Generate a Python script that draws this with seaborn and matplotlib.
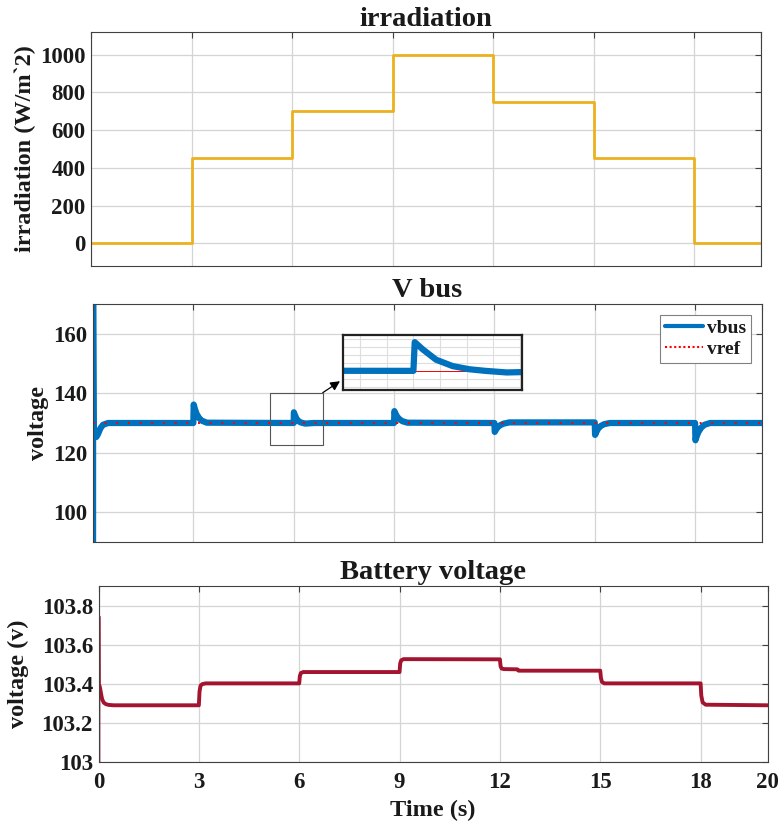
import numpy as np
import pandas as pd
import matplotlib
matplotlib.use("Agg")
import matplotlib.pyplot as plt
from matplotlib.patches import Rectangle
import seaborn as sns

# ---- irradiation profile (step levels, held until the next change) ----
irr_t = [0, 3, 6, 9, 12, 15, 18, 20]
irr_v = [0, 450, 700, 1000, 750, 450, 0, 0]

# ---- DC bus voltage: start-up and the transient after each irradiation step ----
vbus_t = [0.0, 0.003, 0.02, 0.06, 0.10, 0.15, 0.22, 0.30, 0.45,
          3.0, 3.01, 3.05, 3.10, 3.17, 3.25, 3.40,
          6.0, 6.005, 6.035, 6.085, 6.147, 6.21, 6.27, 6.35, 6.60,
          9.0, 9.01, 9.05, 9.10, 9.17, 9.25, 9.40,
          12.0, 12.01, 12.05, 12.10, 12.18, 12.28, 12.45,
          15.0, 15.01, 15.05, 15.10, 15.18, 15.28, 15.45,
          18.0, 18.01, 18.05, 18.10, 18.18, 18.28, 18.45,
          20.0]
vbus_v = [0.0, 172.0, 128.5, 126.0, 125.3, 126.3, 128.2, 129.4, 130.0,
          130.0, 136.2, 134.6, 133.0, 131.7, 130.8, 130.1,
          130.0, 133.6, 132.7, 131.4, 130.6, 130.2, 130.0, 129.8, 130.0,
          130.0, 134.0, 133.0, 132.0, 131.2, 130.6, 130.1,
          130.0, 127.0, 127.8, 128.6, 129.3, 129.8, 130.2,
          130.2, 126.0, 127.0, 128.1, 129.0, 129.6, 130.0,
          130.0, 124.2, 125.6, 127.0, 128.4, 129.4, 130.0,
          130.0]

# ---- reference bus voltage ----
vref_t = [0, 20]
vref_v = [130, 130]

# ---- battery terminal voltage ----
bat_spike_t = [0.03, 0.03, 0.035]
bat_spike_v = [103.0, 103.745, 103.39]
bat_t = [0.03, 0.05, 0.08, 0.11, 0.16, 0.22, 0.30, 0.45,
         3.0, 3.02, 3.05, 3.10, 3.20,
         6.0, 6.02, 6.05, 6.12,
         9.0, 9.02, 9.05, 9.12,
         12.0, 12.02, 12.05, 12.12, 12.52, 12.56,
         15.0, 15.02, 15.05, 15.12,
         18.0, 18.02, 18.06, 18.15,
         20.0]
bat_v = [103.39, 103.375, 103.345, 103.32, 103.303, 103.296, 103.292, 103.29,
         103.29, 103.36, 103.39, 103.398, 103.402,
         103.402, 103.44, 103.455, 103.46,
         103.46, 103.505, 103.52, 103.526,
         103.525, 103.49, 103.478, 103.475, 103.474, 103.467,
         103.467, 103.43, 103.41, 103.402,
         103.402, 103.34, 103.305, 103.293,
         103.29]

time_ticks = [0, 3, 6, 9, 12, 15, 18, 20]

C_IRR = "#EDB120"
C_BUS = "#0072BD"
C_REF = "#FF0000"
C_BAT = "#A2142F"
SPINE = "#404040"
GRID = "#d4d4d4"

sns.set_theme(style="whitegrid")
plt.rcParams.update({
    "font.family": ["Liberation Serif", "DejaVu Serif"],
    "font.weight": "bold",
    "axes.titleweight": "bold",
    "axes.labelweight": "bold",
    "axes.edgecolor": SPINE,
    "axes.linewidth": 0.8,
    "grid.color": GRID,
    "grid.linewidth": 0.9,
    "xtick.direction": "in",
    "ytick.direction": "in",
    "xtick.color": SPINE,
    "ytick.color": SPINE,
    "xtick.labelcolor": "#1a1a1a",
    "ytick.labelcolor": "#1a1a1a",
    "text.color": "#1a1a1a",
    "axes.labelcolor": "#1a1a1a",
})

fig = plt.figure(figsize=(7.84, 8.30), dpi=100)
W, H = 784.0, 830.0


def px_axes(l, t, r, b):
    return fig.add_axes([l / W, 1 - b / H, (r - l) / W, (b - t) / H])


ax1 = px_axes(91, 32, 761, 266)
ax2 = px_axes(93, 304, 762, 542)
ax3 = px_axes(98.5, 586, 767.5, 762)

TICK_FS = 16.5
LABEL_FS = 17.5
TITLE_FS = 20.5


def style(ax):
    ax.set_xlim(0, 20)
    ax.set_xticks(time_ticks)
    ax.tick_params(which="both", top=True, right=True, length=4, width=0.8,
                   labelsize=TICK_FS)
    ax.tick_params(axis="y", pad=4)
    ax.tick_params(axis="x", pad=7)
    for s in ax.spines.values():
        s.set_visible(True)
        s.set_color(SPINE)
        s.set_linewidth(0.8)
    ax.grid(True)
    ax.set_xlabel("")


# ---- irradiation ----
df_irr = pd.DataFrame({"t": irr_t, "v": irr_v})
sns.lineplot(data=df_irr, x="t", y="v", ax=ax1, estimator=None, sort=False,
             color=C_IRR, lw=2.0, drawstyle="steps-post")
style(ax1)
ax1.set_ylim(-120, 1120)
ax1.set_yticks([0, 200, 400, 600, 800, 1000])
ax1.set_xticklabels([])
ax1.set_title("irradiation", fontsize=TITLE_FS, pad=4)
ax1.set_ylabel("irradiation (W/m`2)", fontsize=LABEL_FS)
ax1.yaxis.set_label_coords(-0.0985, 0.5)
ax1.yaxis.label.set_va("center")

# ---- bus voltage ----
df_bus = pd.DataFrame({"t": vbus_t, "v": vbus_v})
df_ref = pd.DataFrame({"t": vref_t, "v": vref_v})
sns.lineplot(data=df_bus, x="t", y="v", ax=ax2, estimator=None, sort=False,
             color=C_BUS, lw=4.5, label="vbus")
sns.lineplot(data=df_ref, x="t", y="v", ax=ax2, estimator=None, sort=False,
             color=C_REF, lw=1.4, linestyle=(0, (1, 5)), label="vref")
style(ax2)
ax2.set_ylim(90, 170)
ax2.set_yticks([100, 120, 140, 160])
ax2.set_xticklabels([])
ax2.set_title("V bus", fontsize=TITLE_FS, pad=5)
ax2.set_ylabel("voltage", fontsize=LABEL_FS)
ax2.yaxis.set_label_coords(-0.0822, 0.5)
ax2.yaxis.label.set_va("center")

leg = ax2.legend(loc="upper right", fontsize=14, frameon=True, fancybox=False,
                 edgecolor="#808080", framealpha=1, borderaxespad=0.55,
                 handlelength=2.0, handletextpad=0.2, labelspacing=0.15,
                 borderpad=0.25)
leg.get_frame().set_linewidth(0.8)
for h in leg.get_lines():
    if h.get_color() == C_BUS:
        h.set_linewidth(3.0)
    else:
        h.set_linewidth(1.5)
        h.set_linestyle((0, (1, 1.2)))

# zoom window on the 6 s transient
x0, x1, y0, y1 = 5.28, 6.87, 122.6, 140.2
ax2.add_patch(Rectangle((x0, y0), x1 - x0, y1 - y0, fill=False,
                        edgecolor="#555555", lw=0.8, zorder=5))

axin = px_axes(342.7, 335, 522, 390)
sns.lineplot(data=df_ref, x="t", y="v", ax=axin, estimator=None, sort=False,
             color=C_REF, lw=0.7, legend=False)
sns.lineplot(data=df_bus, x="t", y="v", ax=axin, estimator=None, sort=False,
             color=C_BUS, lw=4.5, legend=False)
axin.set_xlim(5.735, 6.407)
axin.set_ylim(127.6, 134.5)
axin.set_xticks(np.arange(5.8, 6.41, 0.1))
axin.set_yticks(np.arange(128, 134.1, 1))
axin.set_xticklabels([])
axin.set_yticklabels([])
axin.set_xlabel("")
axin.set_ylabel("")
axin.tick_params(length=0)
axin.grid(True, color="#dedede", lw=0.8)
axin.set_facecolor("white")
for s in axin.spines.values():
    s.set_visible(True)
    s.set_color("#222222")
    s.set_linewidth(1.6)

ax2.annotate("", xy=(-0.015, 0.16), xycoords=axin.transAxes,
             xytext=(x1, y1), textcoords="data",
             arrowprops=dict(arrowstyle="-|>", color="black", lw=0.9,
                             mutation_scale=14, shrinkA=0, shrinkB=0))

# ---- battery voltage ----
df_bat = pd.DataFrame({"t": bat_t, "v": bat_v})
df_bat0 = pd.DataFrame({"t": bat_spike_t, "v": bat_spike_v})
sns.lineplot(data=df_bat0, x="t", y="v", ax=ax3, estimator=None, sort=False,
             color=C_BAT, lw=1.2)
sns.lineplot(data=df_bat, x="t", y="v", ax=ax3, estimator=None, sort=False,
             color=C_BAT, lw=2.8)
style(ax3)
ax3.set_ylim(103.0, 103.9)
ax3.set_yticks([103.0, 103.2, 103.4, 103.6, 103.8])
ax3.set_yticklabels(["103", "103.2", "103.4", "103.6", "103.8"])
ax3.set_xticklabels([str(t) for t in time_ticks])
ax3.set_title("Battery voltage", fontsize=TITLE_FS, pad=5)
ax3.set_xlabel("Time (s)", fontsize=LABEL_FS, labelpad=5)
ax3.set_ylabel("voltage (v)", fontsize=LABEL_FS)
ax3.yaxis.set_label_coords(-0.1196, 0.5)
ax3.yaxis.label.set_va("center")

fig.savefig("out.png", dpi=100)
